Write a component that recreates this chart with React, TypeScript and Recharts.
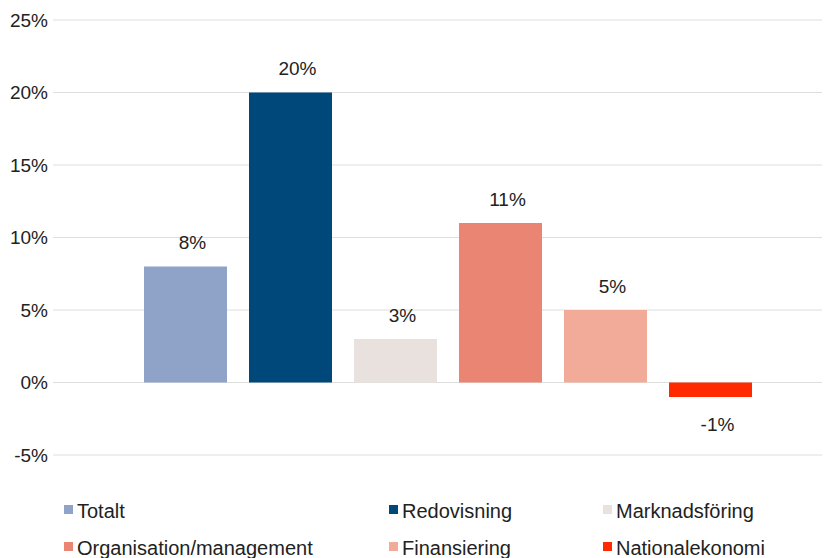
import { BarChart, Bar, XAxis, YAxis, CartesianGrid, LabelList } from 'recharts'

const SERIES = ['Totalt', 'Redovisning', 'Marknadsföring', 'Organisation/management', 'Finansiering', 'Nationalekonomi']
const VALUES = [8, 20, 3, 11, 5, -1]
const COLORS = ['#8fa3c8', '#00477a', '#e8e1de', '#ea8574', '#f1ab98', '#ff2a00']
const Y_TICKS = [-5, 0, 5, 10, 15, 20, 25]

const FONT = '"Liberation Sans", Arial, sans-serif'

const row: Record<string, string | number> = { name: 'Förändring' }
SERIES.forEach((s, i) => {
    row[s] = VALUES[i]
})
const data = [row]

// legend columns, 3 per row
const LEGEND_X = [56, 381, 595]
const LEGEND_Y = [503, 540]

function BarLabel(props: any) {
    const { x, y, width, height, value } = props
    const top = Math.min(y, y + height)
    const bottom = Math.max(y, y + height)
    const ty = value >= 0 ? top - 24 : bottom + 27
    // labels sit a little right of the bar centre in the original
    return (
        <text
            x={x + width / 2 + 7}
            y={ty}
            textAnchor="middle"
            dominantBaseline="central"
            fill="#222"
            fontSize={19}
            fontFamily={FONT}
        >
            {value}%
        </text>
    )
}

export default function App() {
    return (
        <div style={{ position: 'relative', width: 822, height: 550, fontFamily: FONT }}>
            <BarChart
                width={834}
                height={460}
                data={data}
                margin={{ top: 12, right: 0, left: 0, bottom: 13 }}
                barGap={22}
                barCategoryGap={91}
            >
                <CartesianGrid vertical={false} stroke="#dedede" />
                <XAxis dataKey="name" hide />
                <YAxis
                    width={45}
                    domain={[-5, 25]}
                    ticks={Y_TICKS}
                    tickFormatter={(v: number) => `${v}%`}
                    axisLine={false}
                    tickLine={false}
                    tickSize={5}
                    tickMargin={0}
                    tick={{ fill: '#222', fontSize: 19, fontFamily: FONT }}
                />
                {SERIES.map((s, i) => (
                    <Bar key={s} dataKey={s} fill={COLORS[i]} isAnimationActive={false}>
                        <LabelList dataKey={s} content={BarLabel} />
                    </Bar>
                ))}
            </BarChart>
            {SERIES.map((s, i) => (
                <div
                    key={s}
                    style={{
                        position: 'absolute',
                        left: LEGEND_X[i % 3],
                        top: LEGEND_Y[Math.floor(i / 3)] - 12,
                        height: 24,
                        display: 'flex',
                        alignItems: 'center',
                        fontSize: 20,
                        color: '#222',
                        whiteSpace: 'nowrap',
                    }}
                >
                    <span
                        style={{
                            display: 'inline-block',
                            width: 9,
                            height: 9,
                            background: COLORS[i],
                            marginRight: 4,
                            marginTop: -4,
                        }}
                    />
                    {s}
                </div>
            ))}
        </div>
    )
}
